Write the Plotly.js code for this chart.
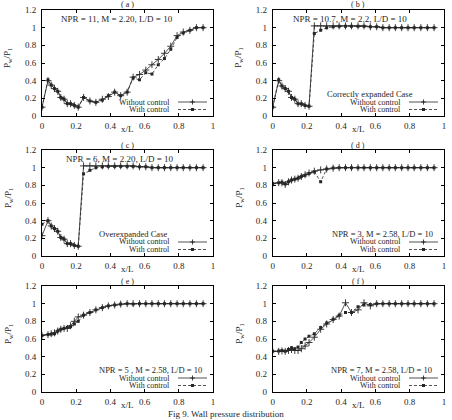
<!DOCTYPE html>
<html>
<head>
<meta charset="utf-8">
<script src="https://cdn.plot.ly/plotly-3.0.1.min.js"></script>
<style>
  html, body { margin: 0; padding: 0; background: #fff; }
  #chart { width: 452px; height: 420px; }
</style>
</head>
<body>
<div id="chart"></div>
<script>
// Wall-pressure stations along the duct (x/L)
const xPos = [0, 0.035, 0.054, 0.073, 0.092, 0.11, 0.129, 0.148, 0.167, 0.189, 0.212,
  0.243, 0.28, 0.315, 0.353, 0.388, 0.425, 0.46, 0.498, 0.533, 0.57, 0.607, 0.643,
  0.68, 0.716, 0.753, 0.79, 0.826, 0.865, 0.903, 0.942];

// (a) NPR = 11, M = 2.20
const aWithout = [0.1, 0.4, 0.35, 0.31, 0.28, 0.21, 0.19, 0.14, 0.14, 0.12, 0.1,
  0.21, 0.17, 0.155, 0.19, 0.22, 0.27, 0.23, 0.27, 0.44, 0.47, 0.52, 0.58, 0.64,
  0.71, 0.79, 0.91, 0.95, 0.97, 1.0, 1.0];
const aWith = [0.1, 0.41, 0.35, 0.31, 0.28, 0.21, 0.19, 0.14, 0.14, 0.12, 0.1,
  0.21, 0.17, 0.155, 0.18, 0.23, 0.27, 0.23, 0.27, 0.43, 0.41, 0.49, 0.475, 0.58,
  0.65, 0.755, 0.89, 0.94, 0.97, 1.0, 1.0];

// (b) NPR = 10.7, M = 2.2 (correctly expanded)
const bWithout = [0.1, 0.4, 0.34, 0.31, 0.28, 0.21, 0.19, 0.14, 0.14, 0.12, 0.11,
  1.02, 1.02, 1.02, 1.02, 1.02, 1.02, 1.02, 1.02, 1.02, 1.01, 1.01, 1.0, 1.0,
  1.0, 1.0, 1.0, 1.0, 1.0, 1.0, 1.0];
const bWith = [0.1, 0.41, 0.34, 0.31, 0.28, 0.21, 0.19, 0.14, 0.14, 0.12, 0.11,
  0.935, 0.97, 1.0, 1.01, 1.015, 1.015, 1.015, 1.015, 1.015, 1.01, 1.01, 1.0, 1.0,
  1.0, 1.0, 1.0, 1.0, 1.0, 1.0, 1.0];

// (c) NPR = 6, M = 2.20 (overexpanded)
const cWithout = [0.23, 0.4, 0.34, 0.31, 0.28, 0.21, 0.19, 0.14, 0.14, 0.12, 0.11,
  1.02, 1.02, 1.02, 1.02, 1.02, 1.02, 1.02, 1.02, 1.02, 1.01, 1.01, 1.0, 1.0,
  1.0, 1.0, 1.0, 1.0, 1.0, 1.0, 1.0];
const cWith = [0.36, 0.4, 0.34, 0.31, 0.28, 0.21, 0.19, 0.14, 0.14, 0.12, 0.11,
  0.93, 0.97, 1.0, 1.01, 1.015, 1.015, 1.015, 1.015, 1.015, 1.01, 1.01, 1.0, 1.0,
  1.0, 1.0, 1.0, 1.0, 1.0, 1.0, 1.0];

// (d) NPR = 3, M = 2.58
const dWithout = [0.82, 0.83, 0.83, 0.81, 0.84, 0.86, 0.87, 0.88, 0.9, 0.92, 0.94,
  0.96, 0.975, 0.985, 0.995, 1.0, 1.0, 1.0, 1.0, 1.0, 1.0, 1.0, 1.0, 1.0,
  1.0, 1.0, 1.0, 1.0, 1.0, 1.0, 1.0];
const dWith = [0.82, 0.83, 0.835, 0.815, 0.84, 0.86, 0.87, 0.88, 0.9, 0.915, 0.935,
  0.955, 0.84, 0.985, 0.995, 1.0, 1.0, 1.0, 1.0, 1.0, 1.0, 1.0, 1.0, 1.0,
  1.0, 1.0, 1.0, 1.0, 1.0, 1.0, 1.0];

// (e) NPR = 5, M = 2.58
const eWithout = [0.64, 0.65, 0.66, 0.67, 0.69, 0.71, 0.72, 0.72, 0.75, 0.8, 0.85,
  0.87, 0.9, 0.93, 0.955, 0.975, 0.985, 0.995, 1.0, 1.0, 1.0, 1.0, 1.0, 1.0,
  1.0, 1.0, 1.0, 1.0, 1.0, 1.0, 1.0];
const eWith = [0.64, 0.65, 0.655, 0.66, 0.69, 0.71, 0.72, 0.73, 0.74, 0.77, 0.8,
  0.87, 0.9, 0.93, 0.955, 0.975, 0.985, 0.995, 1.0, 0.995, 1.0, 1.0, 1.0, 1.0,
  1.0, 1.0, 1.0, 1.0, 1.0, 1.0, 1.0];

// (f) NPR = 7, M = 2.58
const fWithout = [0.46, 0.46, 0.465, 0.46, 0.47, 0.48, 0.47, 0.47, 0.49, 0.52, 0.56,
  0.62, 0.71, 0.77, 0.82, 0.86, 1.01, 0.9, 0.93, 1.01, 0.975, 1.0, 1.0, 1.0,
  1.0, 1.0, 1.0, 1.0, 1.0, 1.0, 1.0];
const fWith = [0.46, 0.465, 0.47, 0.46, 0.48, 0.5, 0.49, 0.51, 0.56, 0.6, 0.63,
  0.66, 0.73, 0.78, 0.825, 0.87, 0.9, 0.9, 0.965, 0.985, 0.99, 1.0, 1.0, 1.0,
  1.0, 1.0, 1.0, 1.0, 1.0, 1.0, 1.0];

const xTicks = [0, 0.2, 0.4, 0.6, 0.8, 1];
const yTicks = [0, 0.2, 0.4, 0.6, 0.8, 1, 1.2];
const legendWithout = 'Without control';
const legendWith = 'With control';

// Panel frames in page pixels: [left, right], [top, bottom]
const W = 452, H = 420;
const panels = [
  { tag: '( a )', yW: aWithout, yC: aWith, xd: [42, 213], yd: [10, 116],
    notes: [{ t: 'NPR = 11, M = 2.20, L/D = 10', x: 117, y: 19, s: 9 }] },
  { tag: '( b )', yW: bWithout, yC: bWith, xd: [272.7, 444], yd: [10, 116],
    notes: [{ t: 'NPR = 10.7, M = 2.2, L/D = 10', x: 350, y: 19, s: 9 },
            { t: 'Correctly expanded Case', x: 370, y: 93.5, s: 8.5 }] },
  { tag: '( c )', yW: cWithout, yC: cWith, xd: [42, 213], yd: [150, 256],
    notes: [{ t: 'NPR = 6, M = 2.20, L/D = 10', x: 119, y: 159, s: 9 },
            { t: 'Overexpanded Case', x: 133, y: 233.5, s: 8.5 }] },
  { tag: '( d )', yW: dWithout, yC: dWith, xd: [272.7, 444], yd: [150, 256],
    notes: [{ t: 'NPR = 3, M = 2.58, L/D = 10', x: 382, y: 233.5, s: 8.5 }] },
  { tag: '( e )', yW: eWithout, yC: eWith, xd: [42, 213], yd: [286, 392],
    notes: [{ t: 'NPR = 5 , M = 2.58, L/D = 10', x: 150, y: 369.5, s: 8.5 }] },
  { tag: '( f )', yW: fWithout, yC: fWith, xd: [272.7, 444], yd: [286, 392],
    notes: [{ t: 'NPR = 7, M = 2.58, L/D = 10', x: 381, y: 369.5, s: 8.5 }] }
];

const px = v => v / W;
const py = v => 1 - v / H;
const FONT = 'Liberation Serif, Times New Roman, serif';
const INK = '#262626';

const traces = [];
const layout = {
  width: W, height: H,
  margin: { l: 0, r: 0, t: 0, b: 0 },
  paper_bgcolor: '#fff', plot_bgcolor: '#fff',
  showlegend: false,
  font: { family: FONT, size: 9, color: INK },
  annotations: [], shapes: []
};

function note(text, x, y, size, extra) {
  layout.annotations.push(Object.assign({
    text: text, xref: 'paper', yref: 'paper', x: px(x), y: py(y),
    xanchor: 'center', yanchor: 'middle', showarrow: false,
    font: { family: FONT, size: size, color: INK }
  }, extra || {}));
}

panels.forEach((p, i) => {
  const n = i + 1;
  const sfx = n === 1 ? '' : String(n);
  const xa = 'x' + sfx, ya = 'y' + sfx;
  traces.push({
    x: xPos, y: p.yW, xaxis: xa, yaxis: ya, type: 'scatter', mode: 'lines+markers',
    name: legendWithout,
    line: { color: INK, width: 0.8 },
    marker: { symbol: 'cross-thin-open', size: 5, color: INK, line: { color: INK, width: 0.9 } }
  });
  traces.push({
    x: xPos, y: p.yC, xaxis: xa, yaxis: ya, type: 'scatter', mode: 'lines+markers',
    name: legendWith,
    line: { color: INK, width: 0.8, dash: '3px,2px' },
    marker: { symbol: 'square', size: 3, color: INK }
  });

  const axBase = {
    showline: true, linecolor: '#000', linewidth: 1, mirror: 'ticks',
    ticks: 'inside', ticklen: 3, tickwidth: 1, tickcolor: '#000',
    showgrid: false, zeroline: false, fixedrange: true,
    tickfont: { family: FONT, size: 9, color: INK }
  };
  layout['xaxis' + sfx] = Object.assign({}, axBase, {
    domain: [px(p.xd[0]), px(p.xd[1])], range: [0, 1], anchor: ya,
    tickvals: xTicks, ticktext: xTicks.map(String), ticklabelstandoff: 1
  });
  layout['yaxis' + sfx] = Object.assign({}, axBase, {
    domain: [py(p.yd[1]), py(p.yd[0])], range: [0, 1.2], anchor: xa,
    tickvals: yTicks, ticktext: yTicks.map(String), ticklabelstandoff: 3
  });

  const L = p.xd[0], R = p.xd[1], T = p.yd[0], B = p.yd[1];
  const cx = (L + R) / 2;

  // panel tag and axis titles
  note(p.tag, cx, T - 5, 8);
  note('x/L', cx, B + 12.5, 9);
  note('P<sub>w</sub>/P<sub>1</sub>', L - 34, T + 48, 9, { textangle: -90 });

  // case descriptions
  p.notes.forEach(t => note(t.t, t.x, t.y, t.s));

  // key: text on the left, line sample on the right
  const rows = [B - 14, B - 6.5];
  const s0 = R - 35, s1 = R - 6, sm = (s0 + s1) / 2;
  note(legendWithout, R - 41, rows[0], 8, { xanchor: 'right' });
  note(legendWith, R - 41, rows[1], 8, { xanchor: 'right' });
  layout.shapes.push({
    type: 'line', xref: 'paper', yref: 'paper',
    x0: px(s0), x1: px(s1), y0: py(rows[0]), y1: py(rows[0]),
    line: { color: INK, width: 0.8 }
  });
  layout.shapes.push({
    type: 'path', xref: 'paper', yref: 'paper', xsizemode: 'pixel', ysizemode: 'pixel',
    xanchor: px(sm), yanchor: py(rows[0]), path: 'M-2.5,0 L2.5,0 M0,-2.5 L0,2.5',
    line: { color: INK, width: 0.9 }
  });
  layout.shapes.push({
    type: 'line', xref: 'paper', yref: 'paper',
    x0: px(s0), x1: px(s1), y0: py(rows[1]), y1: py(rows[1]),
    line: { color: INK, width: 0.8, dash: '3px,2px' }
  });
  layout.shapes.push({
    type: 'rect', xref: 'paper', yref: 'paper', xsizemode: 'pixel', ysizemode: 'pixel',
    xanchor: px(sm), yanchor: py(rows[1]), x0: -1.5, x1: 1.5, y0: -1.5, y1: 1.5,
    fillcolor: INK, line: { width: 0 }
  });
});

note('Fig 9. Wall pressure distribution', 226, 414, 9);

Plotly.newPlot('chart', traces, layout, { staticPlot: true, displayModeBar: false });
</script>
</body>
</html>
